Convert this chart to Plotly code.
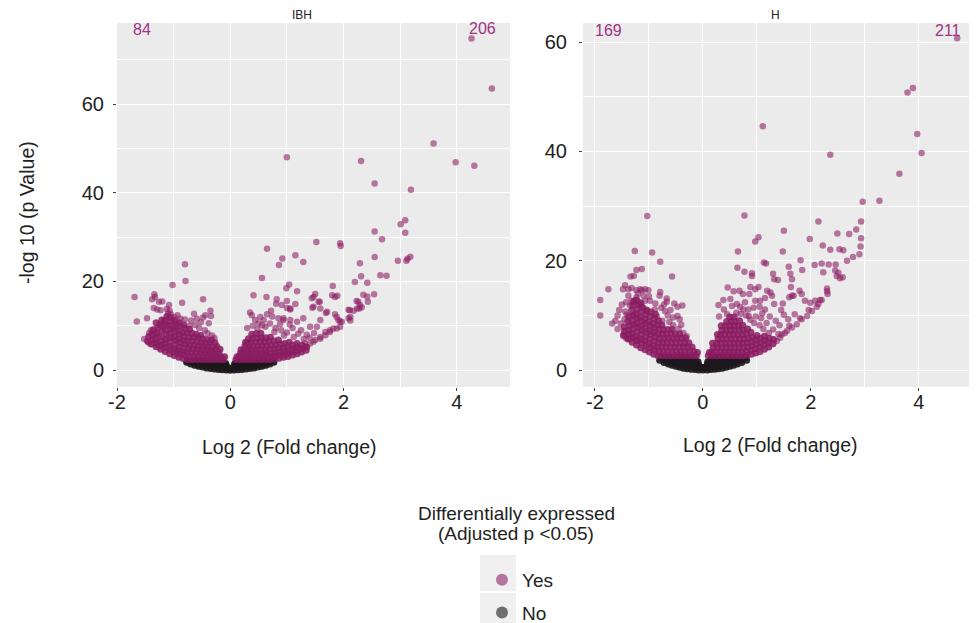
import plotly.graph_objects as go

# ---------------- data ----------------
# IBH panel: significant up (log2FC > 0)
ibh_up_scatter = [
    (4.26,74.8),(4.62,63.5),(3.59,51.1),(1.00,48.0),(2.31,47.2),(3.98,46.9),(4.31,46.1),(2.55,42.1),
    (3.19,40.7),(3.09,33.8),(3.01,32.9),(3.09,31.0),(2.55,31.3),(2.68,29.5),(1.52,28.9),(1.94,28.6),
    (1.95,28.0),(0.65,27.4),(1.15,25.9),(0.92,25.2),(1.29,24.4),(0.86,23.7),(2.55,25.5),(2.29,24.1),
    (2.96,24.7),(3.11,24.7),(3.18,25.6),(3.13,25.1),(2.65,21.4),(2.76,21.3),(2.31,21.2),(2.20,19.9),
    (2.42,19.7),(0.56,20.8),(1.04,19.3),(0.99,18.5),(1.18,17.8),(1.81,19.0),(1.50,17.2),(1.80,16.9),
    (1.89,16.8),(2.54,17.1),(2.35,17.0),(2.42,16.6),(2.43,15.4),(2.23,15.6),(2.29,14.7),(2.32,14.2),
    (2.28,13.9),(2.11,13.5),(2.18,13.4),(2.09,11.7),(2.12,11.2),(1.47,16.5),(1.56,15.4),(1.59,13.9),
    (1.45,14.1),(1.69,12.9),(1.85,12.6),(1.88,12.0),(1.91,11.3),(1.94,10.9),(1.68,8.6),(1.59,7.5),
    (1.50,6.8),(1.41,6.0),(1.32,5.3),(1.82,9.4),(1.76,9.0),(0.41,16.9),(0.64,16.5),(0.82,16.0),
    (0.81,15.0),(0.91,14.7),(1.00,15.6),(1.06,13.9),(1.15,14.9),(0.72,13.4),(0.65,12.6),(0.74,12.1),
    (0.35,13.0),(0.38,12.4),(0.44,11.3),(0.53,12.0),(0.59,11.3),(0.50,10.5),(0.56,10.1),(0.85,11.7),
    (0.94,11.3),(1.06,11.3),(1.18,10.9),(1.29,11.7),(1.41,9.8),(1.53,9.8),(1.59,11.3),(1.71,13.2),
    (1.44,16.2),(1.47,14.3),(1.58,15.4),(1.85,16.5),(1.97,10.9),(1.94,9.8),(1.88,9.4),(1.76,8.6),
    (1.68,7.9),(1.59,7.1),(1.47,6.4),(1.32,6.0),(2.09,13.6),(2.12,12.0),(2.24,13.9),(2.26,15.4),
    (1.00,14.0),(1.06,13.7),(0.94,11.7),(0.30,9.5),(0.40,10.0),(0.62,9.8),(0.70,10.5),(0.80,9.5),
    (0.90,9.0),(1.00,8.5),(1.10,9.5),(1.20,8.2),(1.25,9.0),(1.35,8.0),(1.12,7.5),(0.95,7.8),
    (0.78,8.6),(1.05,10.3),(1.30,7.0),(1.40,7.3),(1.48,8.4),(0.48,9.2),(0.88,10.4),
]
ibh_up_core = [
    (0.10,2.4),(0.12,3.0),
    (0.17,2.4),(0.16,3.1),(0.18,3.8),(0.19,4.6),
    (0.24,2.4),(0.23,3.1),(0.25,3.8),(0.24,4.6),(0.26,5.5),(0.27,6.3),
    (0.31,2.4),(0.30,3.1),(0.32,3.8),(0.31,4.6),(0.33,5.4),(0.30,6.2),(0.32,7.1),
    (0.38,2.4),(0.37,3.1),(0.39,3.8),(0.38,4.6),(0.40,5.4),(0.37,6.3),(0.39,7.2),(0.38,8.1),
    (0.46,2.4),(0.45,3.1),(0.47,3.8),(0.46,4.6),(0.48,5.4),(0.45,6.3),(0.47,7.2),(0.46,8.2),
    (0.54,2.4),(0.53,3.1),(0.55,3.8),(0.54,4.6),(0.56,5.5),(0.53,6.4),(0.55,7.3),(0.54,8.3),
    (0.62,2.4),(0.61,3.1),(0.63,3.8),(0.62,4.6),(0.64,5.5),(0.61,6.4),(0.63,7.3),
    (0.70,2.4),(0.69,3.1),(0.71,3.8),(0.70,4.7),(0.72,5.6),(0.69,6.5),(0.71,7.4),
    (0.78,2.5),(0.77,3.2),(0.79,3.9),(0.78,4.8),(0.80,5.7),(0.77,6.6),
    (0.86,2.7),(0.85,3.4),(0.87,4.1),(0.86,5.0),(0.88,5.9),(0.85,6.8),
    (0.94,2.9),(0.93,3.6),(0.95,4.3),(0.94,5.1),(0.96,6.0),
    (1.02,3.1),(1.01,3.8),(1.03,4.6),(1.02,5.4),(1.04,6.3),
    (1.10,3.4),(1.09,4.1),(1.11,4.9),(1.10,5.7),
    (1.18,3.7),(1.17,4.4),(1.19,5.2),(1.18,6.0),
    (1.26,4.1),(1.25,4.8),(1.27,5.6),
    (1.34,4.5),(1.35,5.2),
]
# IBH panel: significant down (log2FC < 0)
ibh_down_scatter = [
    (-0.80,23.9),(-0.79,20.1),(-1.02,19.2),(-1.69,16.5),(-1.65,11.0),(-1.47,11.7),(-1.34,17.1),(-1.33,16.5),
    (-1.38,16.0),(-1.26,15.4),(-1.20,15.5),(-0.85,15.2),(-0.48,16.0),(-1.08,14.7),(-1.35,14.0),(-1.29,13.7),
    (-1.23,13.5),(-1.12,13.8),(-1.07,13.4),(-0.34,12.2),(-0.44,12.4),(-0.48,11.9),(-0.59,11.6),(-0.69,11.2),
    (-1.20,10.0),(-1.05,12.6),(-0.99,12.0),(-0.93,12.4),(-0.88,11.6),(-0.80,11.4),(-1.36,7.7),(-1.30,8.5),
    (-1.26,7.7),(-1.14,6.9),(-1.52,7.0),(-1.45,6.3),(-1.41,5.9),(-1.31,5.7),(-1.24,5.3),(-0.62,10.2),
    (-0.55,9.5),(-0.45,9.0),(-0.40,8.3),(-0.32,7.8),(-0.28,7.2),(-0.72,10.0),(-0.95,9.8),(-1.40,9.0),
    (-1.43,8.4),(-1.25,10.5),(-1.15,11.0),(-0.64,12.7),(-0.38,10.6),(-0.52,10.8),(-1.10,12.8),(-0.35,13.4),
]
ibh_down_core = [
    (-1.46,6.6),(-1.44,7.6),
    (-1.39,5.9),(-1.37,6.9),(-1.38,8.1),(-1.36,9.1),
    (-1.31,5.3),(-1.29,6.2),(-1.32,7.1),(-1.30,8.3),(-1.28,9.6),(-1.31,10.7),
    (-1.23,4.7),(-1.21,5.6),(-1.24,6.5),(-1.22,7.6),(-1.20,8.9),(-1.23,10.1),(-1.21,11.3),
    (-1.15,4.2),(-1.13,5.1),(-1.16,6.0),(-1.14,6.9),(-1.12,7.9),(-1.15,9.1),(-1.13,10.2),(-1.16,11.2),(-1.12,12.1),
    (-1.07,3.7),(-1.05,4.6),(-1.08,5.4),(-1.06,6.4),(-1.04,7.3),(-1.07,8.3),(-1.05,9.2),(-1.08,10.1),(-1.04,11.0),(-1.06,11.9),
    (-0.99,3.3),(-0.97,4.1),(-1.00,4.9),(-0.98,5.8),(-0.96,6.7),(-0.99,7.6),(-0.97,8.6),(-1.00,9.5),(-0.96,10.4),(-0.98,11.2),
    (-0.91,2.9),(-0.89,3.7),(-0.92,4.5),(-0.90,5.3),(-0.88,6.2),(-0.91,7.1),(-0.89,8.0),(-0.92,8.9),(-0.88,9.9),(-0.90,10.7),
    (-0.83,2.6),(-0.81,3.4),(-0.84,4.2),(-0.82,5.0),(-0.80,5.9),(-0.83,6.7),(-0.81,7.6),(-0.84,8.5),(-0.80,9.4),(-0.82,10.2),
    (-0.75,2.4),(-0.73,3.2),(-0.76,4.0),(-0.74,4.8),(-0.72,5.6),(-0.75,6.5),(-0.73,7.4),(-0.76,8.3),(-0.72,9.2),
    (-0.67,2.4),(-0.65,3.2),(-0.68,4.0),(-0.66,4.8),(-0.64,5.7),(-0.67,6.6),(-0.65,7.5),(-0.68,8.4),
    (-0.59,2.4),(-0.57,3.1),(-0.60,3.9),(-0.58,4.7),(-0.56,5.5),(-0.59,6.4),(-0.57,7.3),(-0.60,8.1),
    (-0.51,2.4),(-0.49,3.1),(-0.52,3.9),(-0.50,4.6),(-0.48,5.4),(-0.51,6.2),(-0.49,7.1),(-0.52,7.8),
    (-0.43,2.4),(-0.41,3.1),(-0.44,3.8),(-0.42,4.6),(-0.40,5.3),(-0.43,6.1),(-0.41,6.9),
    (-0.35,2.4),(-0.33,3.1),(-0.36,3.8),(-0.34,4.5),(-0.32,5.3),(-0.35,6.1),(-0.33,6.8),
    (-0.27,2.4),(-0.25,3.1),(-0.28,3.8),(-0.26,4.6),(-0.24,5.4),(-0.27,6.2),
    (-0.19,2.4),(-0.17,3.1),(-0.20,3.9),(-0.18,4.7),
    (-0.12,2.4),(-0.10,3.0),
]
# IBH panel: not significant
ibh_ns = [
    (-0.77,1.8),(-0.76,2.2),(-0.70,1.4),(-0.69,1.9),(-0.63,1.1),(-0.62,1.6),(-0.61,2.1),
    (-0.56,0.9),(-0.55,1.4),(-0.54,1.9),(-0.49,0.7),(-0.48,1.2),(-0.47,1.7),(-0.48,2.1),
    (-0.42,0.5),(-0.41,1.0),(-0.40,1.5),(-0.41,2.0),(-0.35,0.4),(-0.34,0.9),(-0.33,1.4),(-0.34,1.9),
    (-0.28,0.25),(-0.27,0.8),(-0.26,1.3),(-0.27,1.8),(-0.28,2.1),(-0.21,0.15),(-0.20,0.7),(-0.19,1.2),
    (-0.20,1.7),(-0.21,2.1),(-0.14,0.08),(-0.13,0.6),(-0.12,1.1),(-0.13,1.6),(-0.14,2.0),
    (-0.07,0.03),(-0.06,0.5),(-0.07,1.0),(-0.08,1.5),(0.00,0.0),(0.01,0.4),(-0.02,0.5),
    (0.07,0.03),(0.06,0.5),(0.07,1.0),(0.08,1.5),(0.14,0.08),(0.13,0.6),(0.12,1.1),(0.13,1.6),(0.14,2.0),
    (0.21,0.15),(0.20,0.7),(0.19,1.2),(0.20,1.7),(0.21,2.1),(0.28,0.25),(0.27,0.8),(0.26,1.3),(0.27,1.8),
    (0.28,2.1),(0.35,0.4),(0.34,0.9),(0.33,1.4),(0.34,1.9),(0.42,0.5),(0.41,1.0),(0.40,1.5),(0.41,2.0),
    (0.49,0.7),(0.48,1.2),(0.47,1.7),(0.48,2.1),(0.56,0.9),(0.55,1.4),(0.54,1.9),
    (0.63,1.1),(0.62,1.6),(0.61,2.1),(0.70,1.4),(0.69,1.9),(0.77,1.8),(0.76,2.2),
]

# H panel: significant up
h_up_scatter = [
    (4.71,60.7),(3.89,51.6),(3.79,50.8),(1.11,44.6),(3.97,43.2),(4.05,39.7),(2.36,39.4),(3.64,35.9),
    (3.27,31.0),(2.96,30.8),(0.77,28.3),(2.14,27.2),(2.93,27.2),(1.50,25.5),(2.49,25.0),(2.71,24.9),
    (2.84,25.7),(2.93,24.1),(1.98,24.0),(1.03,24.3),(0.97,23.5),(2.22,22.8),(2.36,22.0),(2.53,22.1),
    (2.60,21.9),(2.92,22.6),(2.90,21.2),(2.78,20.7),(2.67,20.0),(0.65,21.7),(1.48,21.7),(1.81,20.1),
    (2.07,19.2),(2.20,19.5),(2.33,19.3),(2.46,19.3),(2.23,17.9),(2.45,18.2),(2.51,17.8),(2.48,17.2),
    (2.54,16.8),(2.59,17.0),(1.84,18.3),(1.59,18.9),(1.62,17.6),(1.13,19.7),(1.17,19.5),(0.64,18.7),
    (0.77,18.0),(0.91,17.7),(0.91,17.2),(1.30,17.6),(1.32,16.6),(1.39,16.5),(1.65,16.6),(1.63,15.2),
    (2.30,14.9),(2.30,14.4),(2.31,13.9),(2.20,12.8),(0.46,15.1),(0.57,14.4),(0.68,14.5),(0.74,13.9),
    (0.88,15.2),(0.97,14.8),(1.03,15.2),(1.19,14.5),(1.25,14.2),(1.28,13.6),(1.15,13.2),(0.86,13.9),
    (0.97,12.7),(1.06,12.7),(0.29,11.9),(0.38,12.8),(0.51,13.0),(0.39,11.1),(0.54,11.7),(0.63,12.1),
    (0.69,11.6),(0.75,11.1),(0.84,11.1),(0.94,11.4),(1.05,11.6),(1.15,11.1),(1.32,12.1),(1.48,12.2),
    (1.60,13.3),(1.68,13.6),(1.79,14.5),(1.89,12.7),(2.08,12.7),(2.17,12.8),(2.11,11.6),(2.02,10.8),
    (1.93,9.9),(1.80,9.5),(1.74,8.4),(1.65,7.8),(1.52,6.8),(1.43,5.9),(1.37,5.3),(1.99,12.3),
    (2.14,12.1),(1.96,11.0),(1.83,9.3),(1.56,7.2),(1.46,6.5),(1.83,13.9),(1.65,13.6),
    (0.30,9.8),(0.45,10.2),(0.62,10.5),(0.80,10.0),(0.88,9.2),(0.98,9.8),(1.08,9.5),(1.18,8.6),
    (1.24,9.8),(1.35,9.0),(1.42,8.2),(1.05,8.2),(0.95,8.6),(1.12,7.5),(1.30,7.4),(1.22,6.8),
    (1.40,6.6),(0.85,9.9),(0.70,10.3),(1.50,10.1),(1.58,9.3),(1.60,8.1),(1.70,10.2),(1.45,11.0),
    (1.10,10.4),(0.78,12.4),
]
h_up_core = [
    (0.10,2.6),(0.12,3.2),
    (0.18,2.6),(0.17,3.3),(0.19,4.1),(0.18,4.9),
    (0.26,2.6),(0.25,3.3),(0.27,4.1),(0.26,4.9),(0.28,5.7),(0.27,6.5),
    (0.34,2.6),(0.33,3.3),(0.35,4.1),(0.34,4.9),(0.36,5.7),(0.33,6.5),(0.35,7.3),(0.34,8.1),
    (0.42,2.6),(0.41,3.3),(0.43,4.1),(0.42,4.9),(0.44,5.7),(0.41,6.5),(0.43,7.3),(0.42,8.1),(0.44,8.9),
    (0.50,2.6),(0.49,3.3),(0.51,4.1),(0.50,4.9),(0.52,5.7),(0.49,6.5),(0.51,7.3),(0.50,8.1),(0.52,8.9),(0.50,9.7),
    (0.58,2.6),(0.57,3.3),(0.59,4.1),(0.58,4.9),(0.60,5.7),(0.57,6.5),(0.59,7.3),(0.58,8.1),(0.60,8.9),(0.58,9.7),
    (0.66,2.6),(0.65,3.3),(0.67,4.1),(0.66,4.9),(0.68,5.7),(0.65,6.5),(0.67,7.3),(0.66,8.1),(0.68,9.0),
    (0.74,2.6),(0.73,3.3),(0.75,4.1),(0.74,4.9),(0.76,5.7),(0.73,6.5),(0.75,7.3),(0.74,8.2),
    (0.82,2.7),(0.81,3.4),(0.83,4.2),(0.82,5.0),(0.84,5.8),(0.81,6.6),(0.83,7.5),
    (0.90,2.9),(0.89,3.6),(0.91,4.4),(0.90,5.2),(0.92,6.0),(0.89,6.9),
    (0.98,3.1),(0.97,3.9),(0.99,4.7),(0.98,5.5),(1.00,6.3),
    (1.06,3.4),(1.05,4.2),(1.07,5.0),(1.06,5.8),
    (1.14,3.8),(1.13,4.6),(1.15,5.4),(1.14,6.2),
    (1.22,4.2),(1.21,5.0),(1.23,5.8),
    (1.30,4.8),(1.31,5.6),
]
# H panel: significant down
h_down_scatter = [
    (-1.03,28.2),(-1.26,21.8),(-0.94,21.5),(-0.79,19.8),(-1.23,18.3),(-1.13,18.5),(-1.34,17.1),(-1.28,17.2),
    (-0.57,17.1),(-1.75,14.8),(-1.44,15.5),(-1.48,14.8),(-1.38,14.8),(-1.32,15.0),(-1.23,14.6),(-1.16,14.8),
    (-1.07,14.8),(-1.01,14.6),(-1.90,12.8),(-1.90,10.0),(-1.68,8.5),(-1.55,11.0),(-1.58,10.0),(-1.44,10.7),
    (-1.41,10.1),(-1.38,13.6),(-1.32,12.7),(-1.23,13.3),(-1.17,12.1),(-1.07,12.7),(-0.98,12.7),(-1.11,11.4),
    (-1.04,10.8),(-0.89,11.1),(-0.80,13.6),(-0.70,10.8),(-0.77,11.4),(-0.67,12.5),(-0.47,11.6),(-0.38,11.8),
    (-0.47,9.9),(-0.43,9.3),(-0.40,8.3),(-0.36,6.8),(-0.30,6.2),(-1.47,6.5),(-1.43,5.9),(-1.36,5.7),
    (-1.23,5.3),(-0.79,14.3),(-0.67,13.1),(-0.53,12.2),(-0.55,9.6),(-1.13,14.6),
    (-0.85,9.8),(-0.75,9.0),(-0.62,8.8),(-0.55,8.2),(-0.45,7.5),(-0.65,10.0),(-0.60,11.0),(-0.72,12.0),
    (-0.88,12.2),(-1.00,13.5),(-1.20,14.0),(-1.10,13.6),(-1.35,11.8),(-1.42,12.4),(-1.50,12.0),(-1.52,8.5),
    (-1.45,9.3),(-1.58,7.5),(-1.62,9.0),
]
h_down_core = [
    (-1.47,6.3),(-1.45,7.1),(-1.46,7.9),
    (-1.39,5.7),(-1.37,6.5),(-1.38,7.3),(-1.36,8.1),(-1.39,8.9),(-1.37,9.8),
    (-1.31,5.1),(-1.29,5.9),(-1.32,6.7),(-1.30,7.5),(-1.28,8.3),(-1.31,9.1),(-1.29,10.0),(-1.32,10.9),(-1.30,11.8),(-1.28,12.6),
    (-1.23,4.6),(-1.21,5.4),(-1.24,6.2),(-1.22,7.0),(-1.20,7.8),(-1.23,8.6),(-1.21,9.4),(-1.24,10.2),(-1.22,11.1),(-1.20,12.0),(-1.23,12.8),
    (-1.15,4.1),(-1.13,4.9),(-1.16,5.7),(-1.14,6.5),(-1.12,7.3),(-1.15,8.1),(-1.13,8.9),(-1.16,9.7),(-1.14,10.6),(-1.12,11.5),(-1.15,12.3),
    (-1.07,3.7),(-1.05,4.5),(-1.08,5.3),(-1.06,6.1),(-1.04,6.9),(-1.07,7.7),(-1.05,8.5),(-1.08,9.3),(-1.06,10.2),(-1.04,11.0),
    (-0.99,3.3),(-0.97,4.1),(-1.00,4.9),(-0.98,5.7),(-0.96,6.5),(-0.99,7.3),(-0.97,8.1),(-1.00,8.9),(-0.98,9.8),(-0.96,10.6),
    (-0.91,2.9),(-0.89,3.7),(-0.92,4.5),(-0.90,5.3),(-0.88,6.1),(-0.91,6.9),(-0.89,7.7),(-0.92,8.5),(-0.90,9.4),(-0.88,10.2),
    (-0.83,2.6),(-0.81,3.4),(-0.84,4.2),(-0.82,5.0),(-0.80,5.8),(-0.83,6.6),(-0.81,7.4),(-0.84,8.2),(-0.82,9.0),
    (-0.75,2.6),(-0.73,3.4),(-0.76,4.2),(-0.74,5.0),(-0.72,5.8),(-0.75,6.6),(-0.73,7.4),(-0.76,8.2),
    (-0.67,2.6),(-0.65,3.4),(-0.68,4.2),(-0.66,5.0),(-0.64,5.8),(-0.67,6.6),(-0.65,7.4),
    (-0.59,2.6),(-0.57,3.4),(-0.60,4.2),(-0.58,5.0),(-0.56,5.8),(-0.59,6.7),(-0.57,7.4),
    (-0.51,2.6),(-0.49,3.4),(-0.52,4.2),(-0.50,5.0),(-0.48,5.8),(-0.51,6.6),
    (-0.43,2.6),(-0.41,3.4),(-0.44,4.2),(-0.42,5.0),(-0.40,5.8),(-0.43,6.6),
    (-0.35,2.6),(-0.33,3.4),(-0.36,4.2),(-0.34,5.0),(-0.32,5.8),
    (-0.27,2.6),(-0.25,3.4),(-0.28,4.2),(-0.26,5.0),
    (-0.19,2.6),(-0.17,3.4),(-0.20,4.2),
    (-0.12,2.6),(-0.10,3.2),
]
# H panel: not significant
h_ns = [
    (-0.80,1.8),(-0.78,2.3),(-0.72,1.4),(-0.71,1.9),(-0.70,2.3),(-0.64,1.1),(-0.63,1.6),(-0.62,2.1),
    (-0.57,0.9),(-0.56,1.4),(-0.55,1.9),(-0.56,2.3),(-0.50,0.7),(-0.49,1.2),(-0.48,1.7),(-0.49,2.2),
    (-0.43,0.5),(-0.42,1.0),(-0.41,1.5),(-0.42,2.0),(-0.43,2.3),(-0.36,0.35),(-0.35,0.9),(-0.34,1.4),
    (-0.35,1.9),(-0.36,2.3),(-0.29,0.25),(-0.28,0.8),(-0.27,1.3),(-0.28,1.8),(-0.29,2.3),
    (-0.22,0.15),(-0.21,0.7),(-0.20,1.2),(-0.21,1.7),(-0.22,2.2),(-0.15,0.08),(-0.14,0.6),(-0.13,1.1),
    (-0.14,1.6),(-0.15,2.1),(-0.08,0.03),(-0.07,0.5),(-0.08,1.0),(-0.09,1.5),(0.00,0.0),(0.01,0.4),(-0.02,0.5),
    (0.08,0.03),(0.07,0.5),(0.08,1.0),(0.09,1.5),(0.15,0.08),(0.14,0.6),(0.13,1.1),(0.14,1.6),(0.15,2.1),
    (0.22,0.15),(0.21,0.7),(0.20,1.2),(0.21,1.7),(0.22,2.2),(0.29,0.25),(0.28,0.8),(0.27,1.3),(0.28,1.8),
    (0.29,2.3),(0.36,0.35),(0.35,0.9),(0.34,1.4),(0.35,1.9),(0.36,2.3),(0.43,0.5),(0.42,1.0),(0.41,1.5),
    (0.42,2.0),(0.43,2.3),(0.50,0.7),(0.49,1.2),(0.48,1.7),(0.49,2.2),(0.57,0.9),(0.56,1.4),(0.55,1.9),
    (0.56,2.3),(0.64,1.1),(0.63,1.6),(0.62,2.1),(0.72,1.4),(0.71,1.9),(0.70,2.3),(0.81,1.8),(0.79,2.3),
]

panel_titles = ["IBH", "H"]
count_labels = [("84", -1.55, 76.9), ("206", 4.45, 77.1)]
count_labels_h = [("169", -1.75, 62.2), ("211", 4.54, 62.2)]
x_ticks = [-2, 0, 2, 4]
y_ticks = [0, 20, 40, 60]
legend_title_lines = ["Differentially expressed", "(Adjusted p <0.05)"]

# ---------------- styling ----------------
YES = "#8B1C62"
NO = "#1c181c"
FONT = "Liberation Sans, Arial, Helvetica, sans-serif"
# the page body keeps an 8px margin, so the figure is sized to fill the window after it
OFF = 8
W, H = 977 - OFF, 623 - OFF
ML, MR, MT, MB = 40, 0, 0, 110      # room so the legend never pushes the plot area
PW, PH = W - ML - MR, H - MT - MB


def PX(px):
    return (px - OFF - ML) / PW


def PY(py):
    return 1 - (py - OFF - MT) / PH


def xs(p):
    return [v[0] for v in p]


def ys(p):
    return [v[1] for v in p]


ibh_core = ibh_up_core + ibh_down_core
ibh_scatter = ibh_up_scatter + ibh_down_scatter
h_core = h_up_core + h_down_core
h_scatter = h_up_scatter + h_down_scatter

fig = go.Figure()
mk_scatter = dict(color=YES, size=6.5, opacity=0.58, line=dict(width=0))
mk_core = dict(color=YES, size=7, opacity=0.85, line=dict(width=0))
mk_no = dict(color=NO, size=7, opacity=0.92, line=dict(width=0))
mk_no_legend = dict(color=NO, size=7, opacity=0.6, line=dict(width=0))

for xa, ya, ns, core, sc, first in [("x", "y", ibh_ns, ibh_core, ibh_scatter, True),
                                    ("x2", "y2", h_ns, h_core, h_scatter, False)]:
    fig.add_trace(go.Scatter(x=xs(ns), y=ys(ns), mode="markers", marker=mk_no, name="No",
                             showlegend=False, xaxis=xa, yaxis=ya, hoverinfo="skip"))
    fig.add_trace(go.Scatter(x=xs(core), y=ys(core), mode="markers", marker=mk_core, name="Yes",
                             showlegend=False, xaxis=xa, yaxis=ya, hoverinfo="skip"))
    fig.add_trace(go.Scatter(x=xs(sc), y=ys(sc), mode="markers", marker=mk_scatter, name="Yes",
                             showlegend=first, legendrank=1, legendgroup="yes",
                             xaxis=xa, yaxis=ya, hoverinfo="skip"))
# legend entry for the non-significant group
fig.add_trace(go.Scatter(x=[None], y=[None], mode="markers", marker=mk_no_legend, name="No",
                         legendrank=2, legendgroup="no", xaxis="x", yaxis="y"))


def xaxis(domain, rng, anchor, minor):
    return dict(domain=domain, range=rng, anchor=anchor, tickvals=x_ticks,
                ticktext=[str(t) for t in x_ticks], showgrid=True, gridcolor="white", gridwidth=1.2,
                minor=dict(tickvals=minor, showgrid=True, gridcolor="white", gridwidth=0.6),
                zeroline=False, showline=False, ticks="outside", ticklen=3, tickwidth=1,
                tickcolor="#444", tickfont=dict(size=20, color="#222", family=FONT),
                ticklabelstandoff=-6, fixedrange=True, automargin=False)


def yaxis(domain, rng, anchor, minor, standoff):
    return dict(domain=domain, range=rng, anchor=anchor, tickvals=y_ticks,
                ticktext=[str(t) for t in y_ticks], showgrid=True, gridcolor="white", gridwidth=1.2,
                minor=dict(tickvals=minor, showgrid=True, gridcolor="white", gridwidth=0.6),
                zeroline=False, showline=False, ticks="outside", ticklen=3, tickwidth=1,
                tickcolor="#444", tickfont=dict(size=20, color="#222", family=FONT),
                ticklabelstandoff=standoff, fixedrange=True, automargin=False)


ydom = [PY(387), PY(23)]
fig.update_layout(
    width=W, height=H, margin=dict(l=ML, r=MR, t=MT, b=MB, autoexpand=False),
    paper_bgcolor="#ffffff", plot_bgcolor="#ebebeb",
    font=dict(family=FONT, color="#222"),
    xaxis=xaxis([PX(117), PX(510)], [-2.0, 4.94], "y", [-1, 1, 3]),
    yaxis=yaxis(ydom, [-3.8, 78.3], "x", [10, 30, 50, 70], 5),
    xaxis2=xaxis([PX(583), PX(975)], [-2.22, 5.04], "y2", [-1, 1, 3, 5]),
    yaxis2=yaxis(ydom, [-3.1, 63.5], "x2", [10, 30, 50], 8),
    showlegend=True,
    legend=dict(x=PX(482), y=PY(561), xanchor="left", yanchor="top",
                bgcolor="rgba(0,0,0,0)", font=dict(size=19, family=FONT, color="#222"),
                itemsizing="constant", tracegroupgap=5, traceorder="grouped"),
)

ann = []
for t, px in zip(panel_titles, [302, 775]):
    ann.append(dict(text=t, x=PX(px), y=PY(15), xref="paper", yref="paper", xanchor="center",
                    yanchor="middle", showarrow=False, font=dict(size=12, color="#222")))
for t, x, y in count_labels:
    ann.append(dict(text=t, x=x, y=y, xref="x", yref="y", showarrow=False,
                    xanchor="center", yanchor="middle", font=dict(size=16, color="#a23387")))
for t, x, y in count_labels_h:
    ann.append(dict(text=t, x=x, y=y, xref="x2", yref="y2", showarrow=False,
                    xanchor="center", yanchor="middle", font=dict(size=16, color="#a23387")))
ann.append(dict(text="-log 10 (p Value)", x=PX(27), y=PY(213), xref="paper", yref="paper",
                xanchor="center", yanchor="middle", textangle=-90, showarrow=False,
                font=dict(size=19.5, color="#222")))
ann.append(dict(text="Log 2 (Fold change)", x=PX(289), y=PY(447), xref="paper", yref="paper",
                xanchor="center", yanchor="middle", showarrow=False, font=dict(size=19.5, color="#222")))
ann.append(dict(text="Log 2 (Fold change)", x=PX(770), y=PY(445), xref="paper", yref="paper",
                xanchor="center", yanchor="middle", showarrow=False, font=dict(size=19.5, color="#222")))
for line, py in zip(legend_title_lines, [513, 533]):
    ann.append(dict(text=line, x=PX(516), y=PY(py), xref="paper", yref="paper", xanchor="center",
                    yanchor="middle", showarrow=False, font=dict(size=19, color="#222")))
fig.update_layout(annotations=ann)

for top, bot in [(555, 591), (593, 629)]:
    fig.add_shape(type="rect", xref="paper", yref="paper", x0=PX(480), x1=PX(516),
                  y0=PY(bot), y1=PY(top), fillcolor="#f0f0f0", line=dict(width=0), layer="below")

fig.write_html("out.html")
